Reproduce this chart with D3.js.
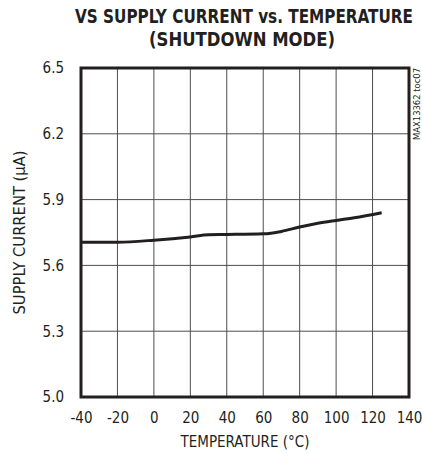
<!DOCTYPE html>
<html>
<head>
<meta charset="utf-8">
<script src="https://cdn.jsdelivr.net/npm/d3@7"></script>
<style>
  body { margin: 0; background: #fff; }
  text { font-family: "DejaVu Sans Condensed", "Liberation Sans Narrow", sans-serif; fill: #231f20; }
</style>
</head>
<body>
<div id="chart"></div>
<script>
// Data
var temps = [-40, -20, 0, 20, 30, 40, 60, 70, 80, 90, 100, 110, 125];
var current = [5.706, 5.706, 5.715, 5.73, 5.74, 5.741, 5.744, 5.755, 5.775, 5.792, 5.805, 5.817, 5.84];
var xTicks = [-40, -20, 0, 20, 40, 60, 80, 100, 120, 140];
var yTicks = [5.0, 5.3, 5.6, 5.9, 6.2, 6.5];

var W = 422, H = 454;
var margin = {top: 68, right: 13, bottom: 57, left: 81};
var w = W - margin.left - margin.right;
var h = H - margin.top - margin.bottom;

var svg = d3.select("#chart").append("svg")
    .attr("width", W)
    .attr("height", H);

// Title (scaled vertically to mimic the tall condensed face)
svg.append("text")
    .attr("transform", "translate(244,23) scale(1,1.12)")
    .attr("text-anchor", "middle")
    .attr("textLength", 338).attr("lengthAdjust", "spacingAndGlyphs")
    .style("font-size", "17px").style("font-weight", "bold")
    .text("VS SUPPLY CURRENT vs. TEMPERATURE");
svg.append("text")
    .attr("transform", "translate(242,46) scale(1,1.12)")
    .attr("text-anchor", "middle")
    .attr("textLength", 186).attr("lengthAdjust", "spacingAndGlyphs")
    .style("font-size", "17px").style("font-weight", "bold")
    .text("(SHUTDOWN MODE)");

var g = svg.append("g")
    .attr("transform", "translate(" + margin.left + "," + margin.top + ")");

var x = d3.scaleLinear().domain([-40, 140]).range([0, w]);
var y = d3.scaleLinear().domain([5.0, 6.5]).range([h, 0]);

// Grid
g.selectAll(".vgrid").data(xTicks.slice(1, -1)).enter().append("line")
    .attr("x1", d => x(d)).attr("x2", d => x(d))
    .attr("y1", 0).attr("y2", h)
    .attr("stroke", "#4d4d4d").attr("stroke-width", 1);
g.selectAll(".hgrid").data(yTicks.slice(1, -1)).enter().append("line")
    .attr("x1", 0).attr("x2", w)
    .attr("y1", d => y(d)).attr("y2", d => y(d))
    .attr("stroke", "#4d4d4d").attr("stroke-width", 1);

// Axes (labels only)
var xAxis = g.append("g")
    .attr("transform", "translate(0," + h + ")")
    .call(d3.axisBottom(x).tickValues(xTicks).tickSize(0).tickPadding(15).tickFormat(d => String(d)));
xAxis.select(".domain").remove();
xAxis.selectAll("text").style("font-size", "15px").attr("fill", "#231f20");

var yAxis = g.append("g")
    .call(d3.axisLeft(y).tickValues(yTicks).tickSize(0).tickPadding(17).tickFormat(d3.format(".1f")));
yAxis.select(".domain").remove();
yAxis.selectAll("text").style("font-size", "15px").attr("fill", "#231f20");

// Frame
g.append("rect")
    .attr("width", w).attr("height", h)
    .attr("fill", "none").attr("stroke", "#231f20").attr("stroke-width", 3);

// Curve
var line = d3.line()
    .x((d, i) => x(temps[i]))
    .y(d => y(d))
    .curve(d3.curveMonotoneX);
g.append("path")
    .datum(current)
    .attr("d", line)
    .attr("fill", "none")
    .attr("stroke", "#231f20")
    .attr("stroke-width", 3);

// Axis titles
svg.append("text")
    .attr("x", 245).attr("y", 447)
    .attr("text-anchor", "middle")
    .style("font-size", "15px")
    .text("TEMPERATURE (°C)");
svg.append("text")
    .attr("transform", "translate(25," + (margin.top + h / 2) + ") rotate(-90)")
    .attr("text-anchor", "middle")
    .attr("textLength", 164).attr("lengthAdjust", "spacingAndGlyphs")
    .style("font-size", "15px")
    .text("SUPPLY CURRENT (µA)");

// Figure code
svg.append("text")
    .attr("transform", "translate(420,68) rotate(-90)")
    .attr("text-anchor", "end")
    .attr("textLength", 72).attr("lengthAdjust", "spacingAndGlyphs")
    .style("font-size", "9px")
    .text("MAX13362 toc07");
</script>
</body>
</html>
